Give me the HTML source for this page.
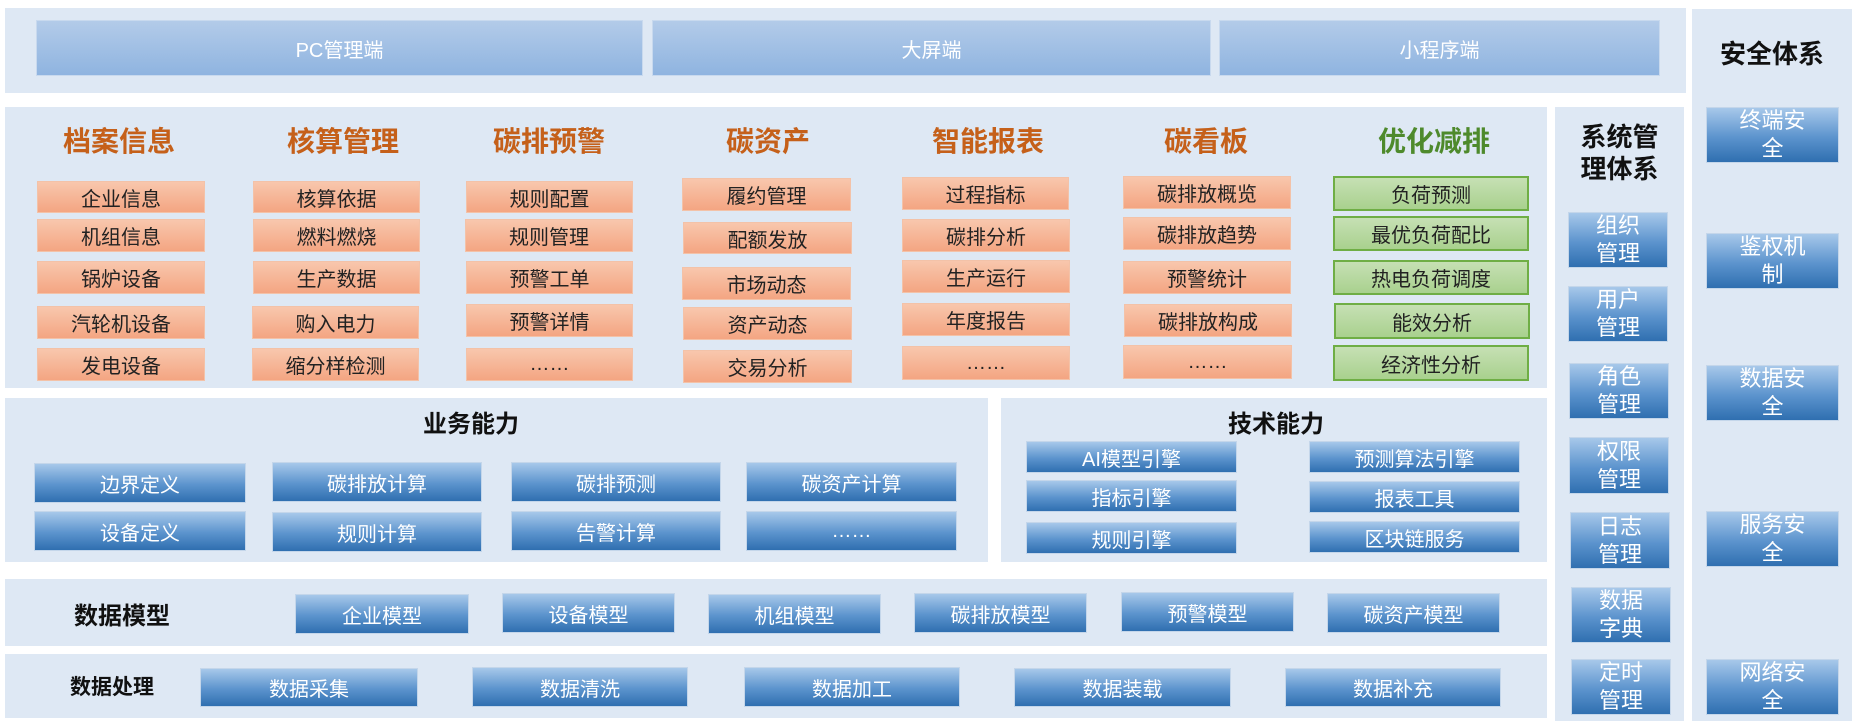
<!DOCTYPE html>
<html><head><meta charset="utf-8"><style>
body{margin:0;width:1861px;height:722px;background:#fff;position:relative;overflow:hidden;font-family:"Liberation Sans","Noto Sans CJK SC",sans-serif}
div{position:absolute;box-sizing:border-box}
.p{background:#dee8f4}
.t{display:flex;align-items:center;justify-content:center;text-align:center}
.top{background:linear-gradient(#b3cbe9,#8fb4e0);color:#fff;font-size:20px;border:1px solid #c8d9ee}
.o{background:linear-gradient(#f8c7ad,#f4a582);color:#222;font-size:20px;border:1px solid #f3c2a8}
.g{background:linear-gradient(#c6e0b4,#a9d18e);color:#222;font-size:20px;border:2px solid #6fae45}
.b{background:linear-gradient(#a7c8ea,#5b93cd 55%,#2f6fb0);color:#fff;font-size:20px;border:1px solid #c4d6ea}
.h{font-size:28px;font-weight:bold;color:#c5601a}
.k{font-weight:bold;color:#111}
.v{line-height:28px;font-size:22px}
</style></head><body>
<div class="p" style="left:5px;top:8px;width:1681px;height:85px"></div>
<div class="t top" style="left:36px;top:20px;width:607px;height:56px">PC管理端</div>
<div class="t top" style="left:652px;top:20px;width:559px;height:56px">大屏端</div>
<div class="t top" style="left:1219px;top:20px;width:441px;height:56px">小程序端</div>

<div class="p" style="left:1692px;top:9px;width:160px;height:712px"></div>
<div class="t k" style="left:1692px;top:32px;width:160px;height:40px;font-size:26px">安全体系</div>
<div class="t b v" style="left:1706px;top:107px;width:133px;height:56px">终端安<br>全</div>
<div class="t b v" style="left:1706px;top:233px;width:133px;height:56px">鉴权机<br>制</div>
<div class="t b v" style="left:1706px;top:365px;width:133px;height:56px">数据安<br>全</div>
<div class="t b v" style="left:1706px;top:511px;width:133px;height:56px">服务安<br>全</div>
<div class="t b v" style="left:1706px;top:659px;width:133px;height:56px">网络安<br>全</div>

<div class="p" style="left:1555px;top:107px;width:129px;height:614px"></div>
<div class="t k" style="left:1555px;top:120px;width:129px;height:66px;font-size:26px;line-height:32px">系统管<br>理体系</div>
<div class="t b v" style="left:1568px;top:212px;width:100px;height:56px">组织<br>管理</div>
<div class="t b v" style="left:1568px;top:286px;width:100px;height:56px">用户<br>管理</div>
<div class="t b v" style="left:1569px;top:363px;width:100px;height:56px">角色<br>管理</div>
<div class="t b v" style="left:1569px;top:437px;width:100px;height:57px">权限<br>管理</div>
<div class="t b v" style="left:1570px;top:512px;width:100px;height:57px">日志<br>管理</div>
<div class="t b v" style="left:1571px;top:587px;width:100px;height:56px">数据<br>字典</div>
<div class="t b v" style="left:1571px;top:659px;width:100px;height:56px">定时<br>管理</div>

<div class="p" style="left:5px;top:107px;width:1542px;height:281px"></div>
<div class="t h" style="left:19px;top:122px;width:200px;height:36px">档案信息</div>
<div class="t h" style="left:243px;top:122px;width:200px;height:36px">核算管理</div>
<div class="t h" style="left:449px;top:122px;width:200px;height:36px">碳排预警</div>
<div class="t h" style="left:668px;top:122px;width:200px;height:36px">碳资产</div>
<div class="t h" style="left:888px;top:122px;width:200px;height:36px">智能报表</div>
<div class="t h" style="left:1106px;top:122px;width:200px;height:36px">碳看板</div>
<div class="t h" style="left:1334px;top:122px;width:200px;height:36px;color:#4e8a2c">优化减排</div>

<div class="t o" style="left:37px;top:181px;width:168px;height:32px">企业信息</div>
<div class="t o" style="left:37px;top:219px;width:168px;height:33px">机组信息</div>
<div class="t o" style="left:37px;top:261px;width:168px;height:33px">锅炉设备</div>
<div class="t o" style="left:37px;top:306px;width:168px;height:33px">汽轮机设备</div>
<div class="t o" style="left:37px;top:348px;width:168px;height:33px">发电设备</div>

<div class="t o" style="left:253px;top:181px;width:167px;height:32px">核算依据</div>
<div class="t o" style="left:253px;top:219px;width:167px;height:33px">燃料燃烧</div>
<div class="t o" style="left:253px;top:261px;width:167px;height:33px">生产数据</div>
<div class="t o" style="left:252px;top:306px;width:167px;height:33px">购入电力</div>
<div class="t o" style="left:252px;top:348px;width:167px;height:33px">缩分样检测</div>

<div class="t o" style="left:466px;top:181px;width:167px;height:32px">规则配置</div>
<div class="t o" style="left:465px;top:219px;width:168px;height:33px">规则管理</div>
<div class="t o" style="left:466px;top:261px;width:167px;height:33px">预警工单</div>
<div class="t o" style="left:466px;top:304px;width:167px;height:33px">预警详情</div>
<div class="t o" style="left:466px;top:348px;width:167px;height:33px">……</div>

<div class="t o" style="left:682px;top:178px;width:169px;height:33px">履约管理</div>
<div class="t o" style="left:683px;top:222px;width:169px;height:32px">配额发放</div>
<div class="t o" style="left:682px;top:267px;width:169px;height:33px">市场动态</div>
<div class="t o" style="left:683px;top:307px;width:169px;height:33px">资产动态</div>
<div class="t o" style="left:683px;top:350px;width:169px;height:33px">交易分析</div>

<div class="t o" style="left:902px;top:177px;width:167px;height:33px">过程指标</div>
<div class="t o" style="left:902px;top:219px;width:168px;height:33px">碳排分析</div>
<div class="t o" style="left:902px;top:260px;width:168px;height:33px">生产运行</div>
<div class="t o" style="left:902px;top:303px;width:168px;height:33px">年度报告</div>
<div class="t o" style="left:902px;top:346px;width:168px;height:34px">……</div>

<div class="t o" style="left:1123px;top:176px;width:168px;height:33px">碳排放概览</div>
<div class="t o" style="left:1123px;top:217px;width:168px;height:33px">碳排放趋势</div>
<div class="t o" style="left:1123px;top:261px;width:168px;height:33px">预警统计</div>
<div class="t o" style="left:1124px;top:304px;width:168px;height:33px">碳排放构成</div>
<div class="t o" style="left:1123px;top:345px;width:169px;height:34px">……</div>

<div class="t g" style="left:1333px;top:176px;width:196px;height:35px">负荷预测</div>
<div class="t g" style="left:1333px;top:216px;width:196px;height:35px">最优负荷配比</div>
<div class="t g" style="left:1333px;top:260px;width:196px;height:35px">热电负荷调度</div>
<div class="t g" style="left:1334px;top:303px;width:196px;height:36px">能效分析</div>
<div class="t g" style="left:1333px;top:345px;width:196px;height:36px">经济性分析</div>

<div class="p" style="left:5px;top:398px;width:983px;height:164px"></div>
<div class="t k" style="left:371px;top:404px;width:200px;height:34px;font-size:24px">业务能力</div>
<div class="t b" style="left:34px;top:463px;width:212px;height:40px">边界定义</div>
<div class="t b" style="left:272px;top:462px;width:210px;height:40px">碳排放计算</div>
<div class="t b" style="left:511px;top:462px;width:210px;height:40px">碳排预测</div>
<div class="t b" style="left:746px;top:462px;width:211px;height:40px">碳资产计算</div>
<div class="t b" style="left:34px;top:511px;width:212px;height:40px">设备定义</div>
<div class="t b" style="left:272px;top:512px;width:210px;height:40px">规则计算</div>
<div class="t b" style="left:511px;top:511px;width:210px;height:40px">告警计算</div>
<div class="t b" style="left:746px;top:511px;width:211px;height:40px">……</div>

<div class="p" style="left:1001px;top:398px;width:546px;height:164px"></div>
<div class="t k" style="left:1176px;top:404px;width:200px;height:34px;font-size:24px">技术能力</div>
<div class="t b" style="left:1026px;top:441px;width:211px;height:32px">AI模型引擎</div>
<div class="t b" style="left:1309px;top:441px;width:211px;height:32px">预测算法引擎</div>
<div class="t b" style="left:1026px;top:480px;width:211px;height:32px">指标引擎</div>
<div class="t b" style="left:1309px;top:481px;width:211px;height:32px">报表工具</div>
<div class="t b" style="left:1026px;top:522px;width:211px;height:32px">规则引擎</div>
<div class="t b" style="left:1309px;top:521px;width:211px;height:32px">区块链服务</div>

<div class="p" style="left:5px;top:579px;width:1542px;height:67px"></div>
<div class="t k" style="left:22px;top:596px;width:200px;height:34px;font-size:24px">数据模型</div>
<div class="t b" style="left:295px;top:594px;width:174px;height:40px">企业模型</div>
<div class="t b" style="left:502px;top:593px;width:173px;height:40px">设备模型</div>
<div class="t b" style="left:708px;top:594px;width:173px;height:40px">机组模型</div>
<div class="t b" style="left:914px;top:593px;width:173px;height:40px">碳排放模型</div>
<div class="t b" style="left:1121px;top:592px;width:173px;height:40px">预警模型</div>
<div class="t b" style="left:1327px;top:593px;width:173px;height:40px">碳资产模型</div>

<div class="p" style="left:5px;top:654px;width:1542px;height:64px"></div>
<div class="t k" style="left:12px;top:671px;width:200px;height:30px;font-size:21px">数据处理</div>
<div class="t b" style="left:200px;top:668px;width:218px;height:39px">数据采集</div>
<div class="t b" style="left:472px;top:667px;width:216px;height:40px">数据清洗</div>
<div class="t b" style="left:744px;top:667px;width:216px;height:40px">数据加工</div>
<div class="t b" style="left:1014px;top:668px;width:217px;height:39px">数据装载</div>
<div class="t b" style="left:1285px;top:668px;width:216px;height:39px">数据补充</div>
</body></html>
